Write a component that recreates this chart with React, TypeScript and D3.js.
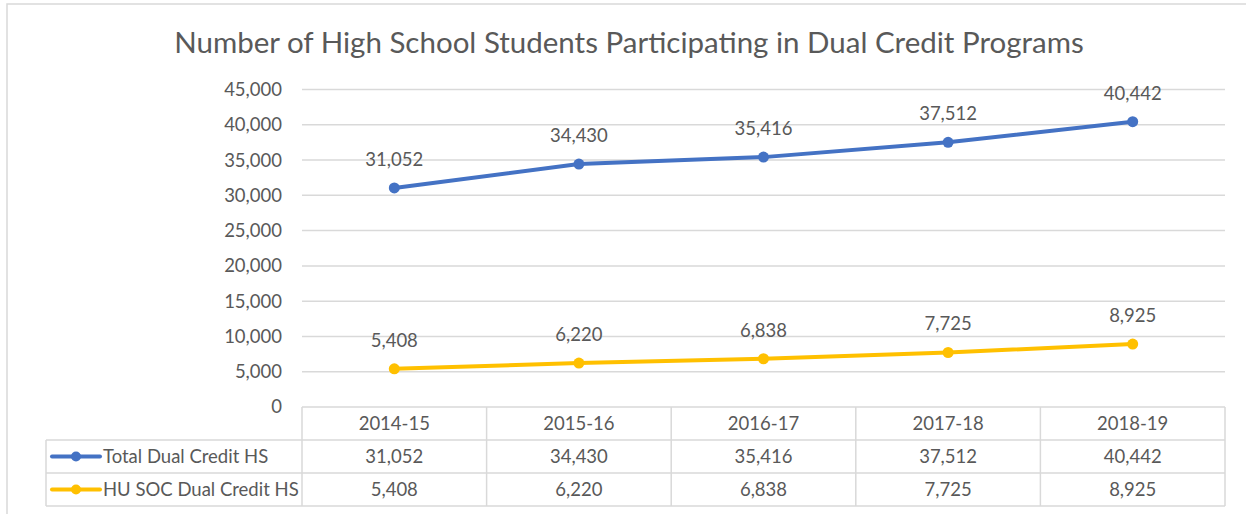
import { useEffect, useRef } from "react";
import * as d3 from "d3";

const years = ["2014-15", "2015-16", "2016-17", "2017-18", "2018-19"];
const totalDual = [31052, 34430, 35416, 37512, 40442];
const huSocDual = [5408, 6220, 6838, 7725, 8925];
const yTicks = [0, 5000, 10000, 15000, 20000, 25000, 30000, 35000, 40000, 45000];
const seriesNames = ["Total Dual Credit HS", "HU SOC Dual Credit HS"];
const seriesColors = ["#4472C4", "#FFC000"];

const width = 1246;
const height = 514;
const font = "Lato, 'Open Sans', sans-serif";
const textColor = "#595959";
const gridColor = "#D9D9D9";
const fs = 18.5;

export default function App() {
  const svgRef = useRef<SVGSVGElement | null>(null);

  useEffect(() => {
    if (!svgRef.current) return;
    const svg = d3.select(svgRef.current);
    svg.selectAll("*").remove();

    const left = 302, right = 1225, top = 89.5, bottom = 407;
    const rowH = 33;
    const legendLeft = 46;

    const x = d3.scaleBand<string>().domain(years).range([left, right]);
    const y = d3.scaleLinear().domain([0, 45000]).range([bottom, top]);
    const fmt = d3.format(",");

    // outer frame
    svg.append("rect")
      .attr("x", 7).attr("y", 4)
      .attr("width", width).attr("height", height)
      .attr("fill", "white").attr("stroke", gridColor).attr("stroke-width", 1.5);

    svg.append("text")
      .attr("x", 629).attr("y", 53)
      .attr("text-anchor", "middle")
      .attr("font-family", font).attr("font-size", 29.5)
      .attr("fill", textColor)
      .text("Number of High School Students Participating in Dual Credit Programs");

    // gridlines
    svg.append("g").selectAll("line")
      .data(yTicks.filter(t => t > 0))
      .join("line")
      .attr("x1", left).attr("x2", right)
      .attr("y1", d => y(d)).attr("y2", d => y(d))
      .attr("stroke", gridColor).attr("stroke-width", 1.5);

    svg.append("g").selectAll("text")
      .data(yTicks)
      .join("text")
      .attr("x", 282).attr("y", d => y(d))
      .attr("dy", "0.35em")
      .attr("text-anchor", "end")
      .attr("font-family", font).attr("font-size", fs)
      .attr("fill", textColor)
      .text(d => fmt(d));

    // data table
    const tbl = svg.append("g").attr("stroke", gridColor).attr("stroke-width", 1.5).attr("fill", "none");
    tbl.append("line").attr("x1", left).attr("x2", right).attr("y1", bottom).attr("y2", bottom);
    [1, 2, 3].forEach(i => {
      tbl.append("line").attr("x1", legendLeft).attr("x2", right)
        .attr("y1", bottom + rowH * i).attr("y2", bottom + rowH * i);
    });
    tbl.append("line").attr("x1", legendLeft).attr("x2", legendLeft)
      .attr("y1", bottom + rowH).attr("y2", bottom + rowH * 3);
    years.forEach(yr => {
      tbl.append("line").attr("x1", x(yr)!).attr("x2", x(yr)!)
        .attr("y1", bottom).attr("y2", bottom + rowH * 3);
    });
    tbl.append("line").attr("x1", right).attr("x2", right)
      .attr("y1", bottom).attr("y2", bottom + rowH * 3);

    const cell = (tx: number, ty: number, s: string, anchor = "middle") =>
      svg.append("text")
        .attr("x", tx).attr("y", ty).attr("dy", "0.35em")
        .attr("text-anchor", anchor)
        .attr("font-family", font).attr("font-size", fs)
        .attr("fill", textColor)
        .text(s);

    years.forEach(yr => cell(x(yr)! + x.bandwidth() / 2, bottom + rowH / 2, yr));

    const allSeries = [totalDual, huSocDual];
    allSeries.forEach((vals, si) => {
      const cy = bottom + rowH * (si + 1) + rowH / 2;
      years.forEach((yr, i) => cell(x(yr)! + x.bandwidth() / 2, cy, fmt(vals[i])));
      // legend key
      svg.append("line")
        .attr("x1", 52).attr("x2", 100).attr("y1", cy).attr("y2", cy)
        .attr("stroke", seriesColors[si]).attr("stroke-width", 4).attr("stroke-linecap", "round");
      svg.append("circle").attr("cx", 76).attr("cy", cy).attr("r", 5).attr("fill", seriesColors[si]);
      cell(103, cy, seriesNames[si], "start");
    });

    // lines
    const line = d3.line<number>()
      .x((_, i) => x(years[i])! + x.bandwidth() / 2)
      .y(d => y(d));

    allSeries.forEach((vals, si) => {
      const g = svg.append("g");
      g.append("path")
        .attr("d", line(vals))
        .attr("fill", "none")
        .attr("stroke", seriesColors[si])
        .attr("stroke-width", 4)
        .attr("stroke-linecap", "round");
      g.selectAll("circle")
        .data(vals)
        .join("circle")
        .attr("cx", (_, i) => x(years[i])! + x.bandwidth() / 2)
        .attr("cy", d => y(d))
        .attr("r", 5.5)
        .attr("fill", seriesColors[si]);
      g.selectAll("text")
        .data(vals)
        .join("text")
        .attr("x", (_, i) => x(years[i])! + x.bandwidth() / 2)
        .attr("y", d => y(d) - 22)
        .attr("text-anchor", "middle")
        .attr("font-family", font).attr("font-size", fs)
        .attr("fill", textColor)
        .text(d => fmt(d));
    });
  }, []);

  return (
    <svg
      ref={svgRef}
      width={width}
      height={height}
      style={{ position: "absolute", left: 0, top: 0, background: "white" }}
    />
  );
}
